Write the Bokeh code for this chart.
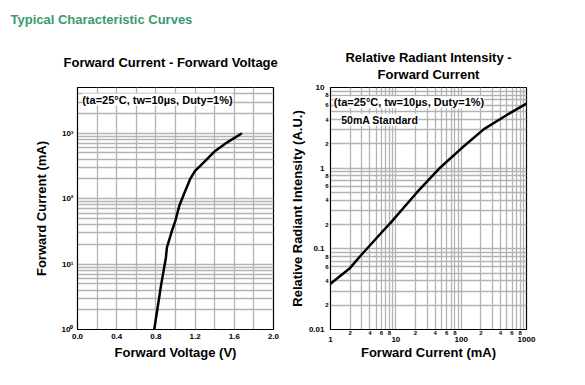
from bokeh.plotting import figure
from bokeh.models import (Label, FixedTicker, LogAxis, Title,
                          CustomJSTickFormatter, Range1d)
from bokeh.layouts import row
from bokeh.embed import file_html
from bokeh.resources import INLINE

# ---------------- data ----------------
# Forward current vs forward voltage
vf_voltage = [0.783, 0.854, 0.902, 0.912, 0.963, 0.997, 1.038, 1.099, 1.15, 1.2, 1.286, 1.405, 1.524, 1.678]
vf_current = [1, 4.9, 12.5, 17.8, 32, 45, 77, 131, 200, 265, 356, 537, 720, 1000]

# Relative radiant intensity vs forward current
ri_current = [1, 2, 3, 4, 6.5, 8.3, 21, 48, 100, 223, 507, 1000]
ri_intensity = [0.037, 0.058, 0.085, 0.11, 0.17, 0.21, 0.5, 1.02, 1.75, 3.05, 4.6, 6.3]

# tick values / labels
vf_x_ticks = [0.0, 0.4, 0.8, 1.2, 1.6, 2.0]
vf_x_grid = [0.0, 0.2, 0.4, 0.6, 0.8, 1.0, 1.2, 1.4, 1.6, 1.8, 2.0]
vf_y_ticks = [1, 10, 100, 1000]
vf_y_tick_labels = ["10\u2070", "10\u00b9", "10\u00b2", "10\u00b3"]
ri_x_ticks = [1, 10, 100, 1000]
ri_x_tick_labels = ["1", "10", "100", "1000"]
ri_y_ticks = [0.01, 0.1, 1, 10]
ri_y_tick_labels = ["0.01", "0.1", "1", "10"]
ri_minor_x = [2, 4, 6, 8, 20, 40, 60, 80, 200, 400, 600, 800]
ri_minor_y = [0.02, 0.04, 0.06, 0.08, 0.2, 0.4, 0.6, 0.8, 2, 4, 6, 8]
minor_digit_labels = ["2", "4", "6", "8"] * 3
mult = [1, 2, 3, 4, 5, 6, 7, 8, 9]

FONT = "Liberation Sans"
GREEN = "#3b9a6e"
GRID = "#b3b3b3"


def log_grid(decades, top):
    out = []
    for d in decades:
        for m in mult:
            v = d * m
            if v <= top * 1.0001:
                out.append(v)
    return out


def style_axis(ax, size="8px"):
    ax.major_tick_in = 0
    ax.major_tick_out = 0
    ax.minor_tick_in = 0
    ax.minor_tick_out = 0
    ax.axis_line_color = "black"
    ax.major_label_text_font = FONT
    ax.major_label_text_font_style = "bold"
    ax.major_label_text_font_size = size
    ax.major_label_text_color = "black"
    ax.axis_label_text_font = FONT
    ax.axis_label_text_font_style = "bold"
    ax.axis_label_text_font_size = "13px"
    ax.axis_label_text_color = "black"


def style(p, xgrid, ygrid):
    p.outline_line_color = "black"
    p.outline_line_width = 1.2
    p.background_fill_color = "white"
    p.border_fill_color = "white"
    for ax in p.axis:
        style_axis(ax)
    p.xgrid.ticker = FixedTicker(ticks=xgrid)
    p.ygrid.ticker = FixedTicker(ticks=ygrid)
    for g in (p.xgrid, p.ygrid):
        g.grid_line_color = GRID
        g.grid_line_width = 1.3


def label_fmt(labels):
    return CustomJSTickFormatter(args=dict(labels=labels), code="return labels[index];")


def inner_text(p, text, x, y, size):
    p.add_layout(Label(x=x, y=y, x_units="screen", y_units="screen", text=text,
                       text_font=FONT, text_font_style="bold", text_font_size=size,
                       text_color="black", text_align="left", text_baseline="middle",
                       background_fill_color="white"))


def title(p, text, standoff, align="center", offset=0, color="black", size="13px"):
    p.add_layout(Title(text=text, align=align, offset=offset, standoff=standoff,
                       text_font=FONT, text_font_style="bold", text_font_size=size,
                       text_color=color, text_line_height=1.1), "above")


# ---------------- left chart ----------------
p1 = figure(frame_width=196, frame_height=242,
            x_range=Range1d(0, 2), y_range=Range1d(1, 5000), y_axis_type="log",
            output_backend="svg", toolbar_location=None,
            min_border_left=77, min_border_right=12, min_border_top=87, min_border_bottom=40)
p1.line(vf_voltage, vf_current, line_color="black", line_width=2.5)
style(p1, vf_x_grid, log_grid([1, 10, 100, 1000], 5000))
p1.xaxis.ticker = FixedTicker(ticks=vf_x_ticks)
p1.xaxis.formatter = CustomJSTickFormatter(code="return tick.toFixed(1);")
p1.yaxis.ticker = FixedTicker(ticks=vf_y_ticks)
p1.yaxis.formatter = label_fmt(vf_y_tick_labels)
p1.xaxis.axis_label = "Forward Voltage (V)"
p1.yaxis.axis_label = "Forward Current (mA)"
p1.xaxis.major_label_standoff = 4
p1.xaxis.axis_label_standoff = 3
p1.yaxis.major_label_standoff = 4
p1.yaxis.axis_label_standoff = 10

title(p1, "Forward Current - Forward Voltage", 36, align="left", offset=-14)
title(p1, "Typical Characteristic Curves", 16, align="left", offset=-67, color=GREEN)
inner_text(p1, "(ta=25\u00b0C, tw=10\u00b5s, Duty=1%)", 4.7, 230, "11px")

# ---------------- right chart ----------------
p2 = figure(frame_width=196, frame_height=242,
            x_range=Range1d(1, 1000), y_range=Range1d(0.01, 10),
            x_axis_type="log", y_axis_type="log",
            output_backend="svg", toolbar_location=None,
            min_border_left=45, min_border_right=20, min_border_top=87, min_border_bottom=40)
p2.line(ri_current, ri_intensity, line_color="black", line_width=2.5)
style(p2, log_grid([1, 10, 100], 1000), log_grid([0.01, 0.1, 1], 10))

# inner axes: small digit labels of the minor decade ticks
p2.xaxis.ticker = FixedTicker(ticks=ri_minor_x)
p2.xaxis.formatter = label_fmt(minor_digit_labels)
p2.xaxis.major_label_text_font_size = "6px"
p2.xaxis.major_label_standoff = 1
p2.yaxis.ticker = FixedTicker(ticks=ri_minor_y)
p2.yaxis.formatter = label_fmt(minor_digit_labels)
p2.yaxis.major_label_text_font_size = "6px"
p2.yaxis.major_label_standoff = 2

# outer axes: decade labels
xdec = LogAxis(ticker=FixedTicker(ticks=ri_x_ticks), formatter=label_fmt(ri_x_tick_labels))
style_axis(xdec)
xdec.axis_line_color = None
xdec.major_label_standoff = -1
xdec.axis_label = "Forward Current (mA)"
xdec.axis_label_standoff = 0
p2.add_layout(xdec, "below")

ydec = LogAxis(ticker=FixedTicker(ticks=ri_y_ticks), formatter=label_fmt(ri_y_tick_labels))
style_axis(ydec)
ydec.axis_line_color = None
ydec.major_label_standoff = -2
ydec.axis_label = "Relative Radiant Intensity (A.U.)"
ydec.axis_label_standoff = 1
p2.add_layout(ydec, "left")

title(p2, "Forward Current", 11)
title(p2, "Relative Radiant Intensity -", -11)
inner_text(p2, "(ta=25\u00b0C, tw=10\u00b5s, Duty=1%)", 3.3, 227.3, "11px")
inner_text(p2, "50mA Standard", 10.7, 209.7, "10.5px")

layout = row(p1, p2)
open("out.html", "w").write(file_html(layout, INLINE))
